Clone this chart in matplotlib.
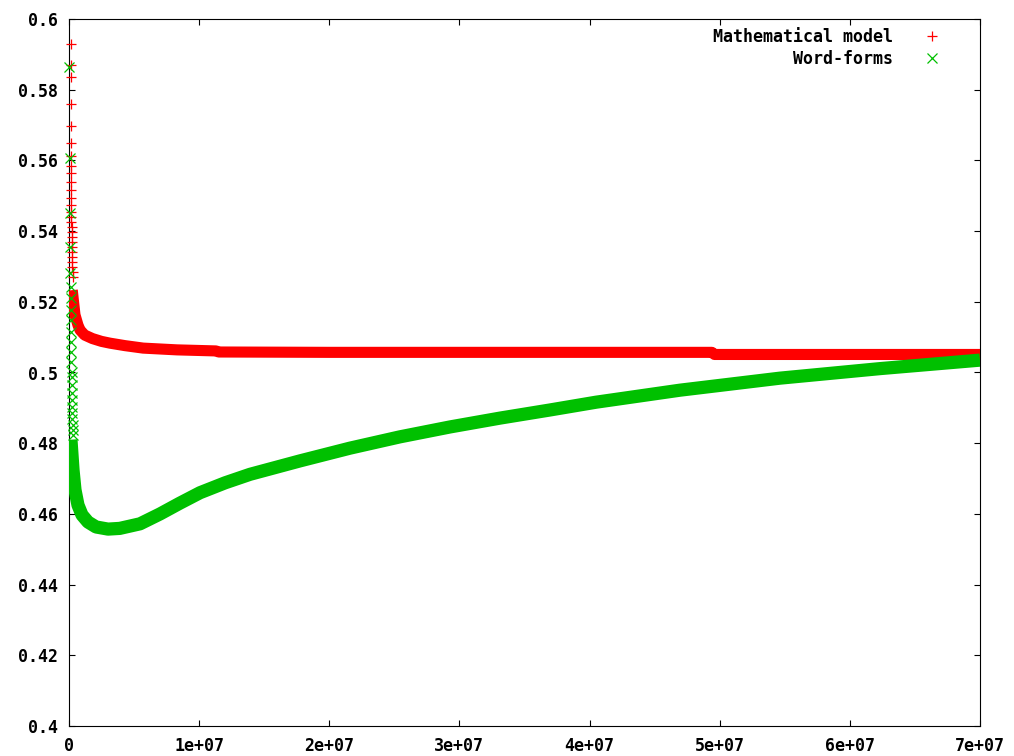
import numpy as np
import matplotlib.pyplot as plt

# values, x in units of 1e7
# "Mathematical model": the sparse points of the spike near x = 0 ...
model_spike_x = [0.012, 0.012, 0.013, 0.013, 0.014, 0.014, 0.015, 0.015, 0.016, 0.016,
                 0.017, 0.017, 0.018, 0.018, 0.019, 0.019, 0.020, 0.020, 0.021, 0.021,
                 0.022, 0.023, 0.024, 0.025, 0.026, 0.027, 0.028]
model_spike_y = [0.5930, 0.5870, 0.5836, 0.5760, 0.5697, 0.5649, 0.5612, 0.5584, 0.5564, 0.5539,
                 0.5516, 0.5494, 0.5474, 0.5454, 0.5440, 0.5426, 0.5412, 0.5397, 0.5383, 0.5369,
                 0.5355, 0.5340, 0.5327, 0.5313, 0.5298, 0.5284, 0.5270]
# ... and the dense band after it
model_x = [0.025, 0.046, 0.069, 0.085, 0.12, 0.18, 0.25, 0.315, 0.43, 0.57, 0.83, 1.13, 1.15,
           2.0, 3.0, 4.0, 4.94, 4.96, 6.0, 7.0]
model_y = [0.5233, 0.5163, 0.5134, 0.5120, 0.5106, 0.5096, 0.5088, 0.5083, 0.5076, 0.5069,
           0.5064, 0.5061, 0.5058, 0.5057, 0.5057, 0.5057, 0.5057, 0.5051, 0.5051, 0.5051]

# "Word-forms"
forms_spike_x = [0.003, 0.006, 0.008, 0.010, 0.011, 0.012, 0.013, 0.014, 0.015, 0.016,
                 0.017, 0.018, 0.019, 0.020, 0.021, 0.022, 0.023, 0.024, 0.025, 0.026,
                 0.026, 0.027, 0.028, 0.029]
forms_spike_y = [0.5864, 0.5607, 0.5451, 0.5355, 0.5281, 0.5242, 0.5211, 0.5177, 0.5148, 0.5115,
                 0.5086, 0.5058, 0.5030, 0.5001, 0.4987, 0.4965, 0.4942, 0.4922, 0.4902, 0.4885,
                 0.4868, 0.4851, 0.4837, 0.4823]
forms_x = [0.015, 0.031, 0.046, 0.069, 0.10, 0.146, 0.208, 0.30, 0.39, 0.546, 0.70, 0.85,
           1.007, 1.2, 1.391, 1.775, 2.159, 2.543, 2.928, 3.312, 3.696, 4.05, 4.695, 5.463,
           6.232, 7.0]
forms_y = [0.4810, 0.4724, 0.4668, 0.4625, 0.4597, 0.4577, 0.4563, 0.4557, 0.4559, 0.4572,
           0.4600, 0.4630, 0.4660, 0.4688, 0.4712, 0.4750, 0.4786, 0.4818, 0.4846, 0.4871,
           0.4894, 0.4916, 0.4950, 0.4984, 0.5011, 0.5035]

x_ticks = [0, 1, 2, 3, 4, 5, 6, 7]
x_tick_labels = ["0", "1e+07", "2e+07", "3e+07", "4e+07", "5e+07", "6e+07", "7e+07"]
y_ticks = [0.4, 0.42, 0.44, 0.46, 0.48, 0.5, 0.52, 0.54, 0.56, 0.58, 0.6]
y_tick_labels = ["0.4", "0.42", "0.44", "0.46", "0.48", "0.5", "0.52", "0.54", "0.56", "0.58", "0.6"]

RED = "#ff0000"
GREEN = "#00c000"
FONT = dict(family="DejaVu Sans Mono", weight="bold", size=12)

fig = plt.figure(figsize=(10.14, 7.56), dpi=100)
ax = fig.add_axes([69 / 1014, 30 / 756, 911 / 1014, 707 / 756])

scale = 1e7
model_dots, = ax.plot(np.array(model_spike_x) * scale, model_spike_y, ls="none", marker="+",
                      ms=7.5, mew=0.9, color=RED, clip_on=False, zorder=3,
                      label="Mathematical model")
ax.plot(np.array(model_x) * scale, model_y, color=RED, lw=8, solid_capstyle="butt",
        solid_joinstyle="round", zorder=3)

forms_dots, = ax.plot(np.array(forms_spike_x) * scale, forms_spike_y, ls="none", marker="x",
                      ms=6.5, mew=0.9, color=GREEN, clip_on=False, zorder=4,
                      label="Word-forms")
ax.plot(np.array(forms_x) * scale, forms_y, color=GREEN, lw=9.5, solid_capstyle="butt",
        solid_joinstyle="round", zorder=4)

ax.set_xlim(0, 7e7)
ax.set_ylim(0.4, 0.6)
ax.set_xticks(np.array(x_ticks) * scale)
ax.set_xticklabels(x_tick_labels, fontdict=FONT)
ax.set_yticks(y_ticks)
ax.set_yticklabels(y_tick_labels, fontdict=FONT)
ax.tick_params(direction="in", length=4.5, width=0.8, top=True, right=True)
ax.tick_params(axis="x", pad=8)
ax.tick_params(axis="y", pad=8)
for spine in ax.spines.values():
    spine.set_linewidth(0.8)

leg = ax.legend(handles=[model_dots, forms_dots], loc="upper right",
                bbox_to_anchor=(0.957, 0.987), borderaxespad=0, borderpad=0,
                frameon=False, markerfirst=False, handlelength=1.0,
                handletextpad=1.85, labelspacing=0.2, prop=FONT)

fig.savefig("out.png", dpi=100)
